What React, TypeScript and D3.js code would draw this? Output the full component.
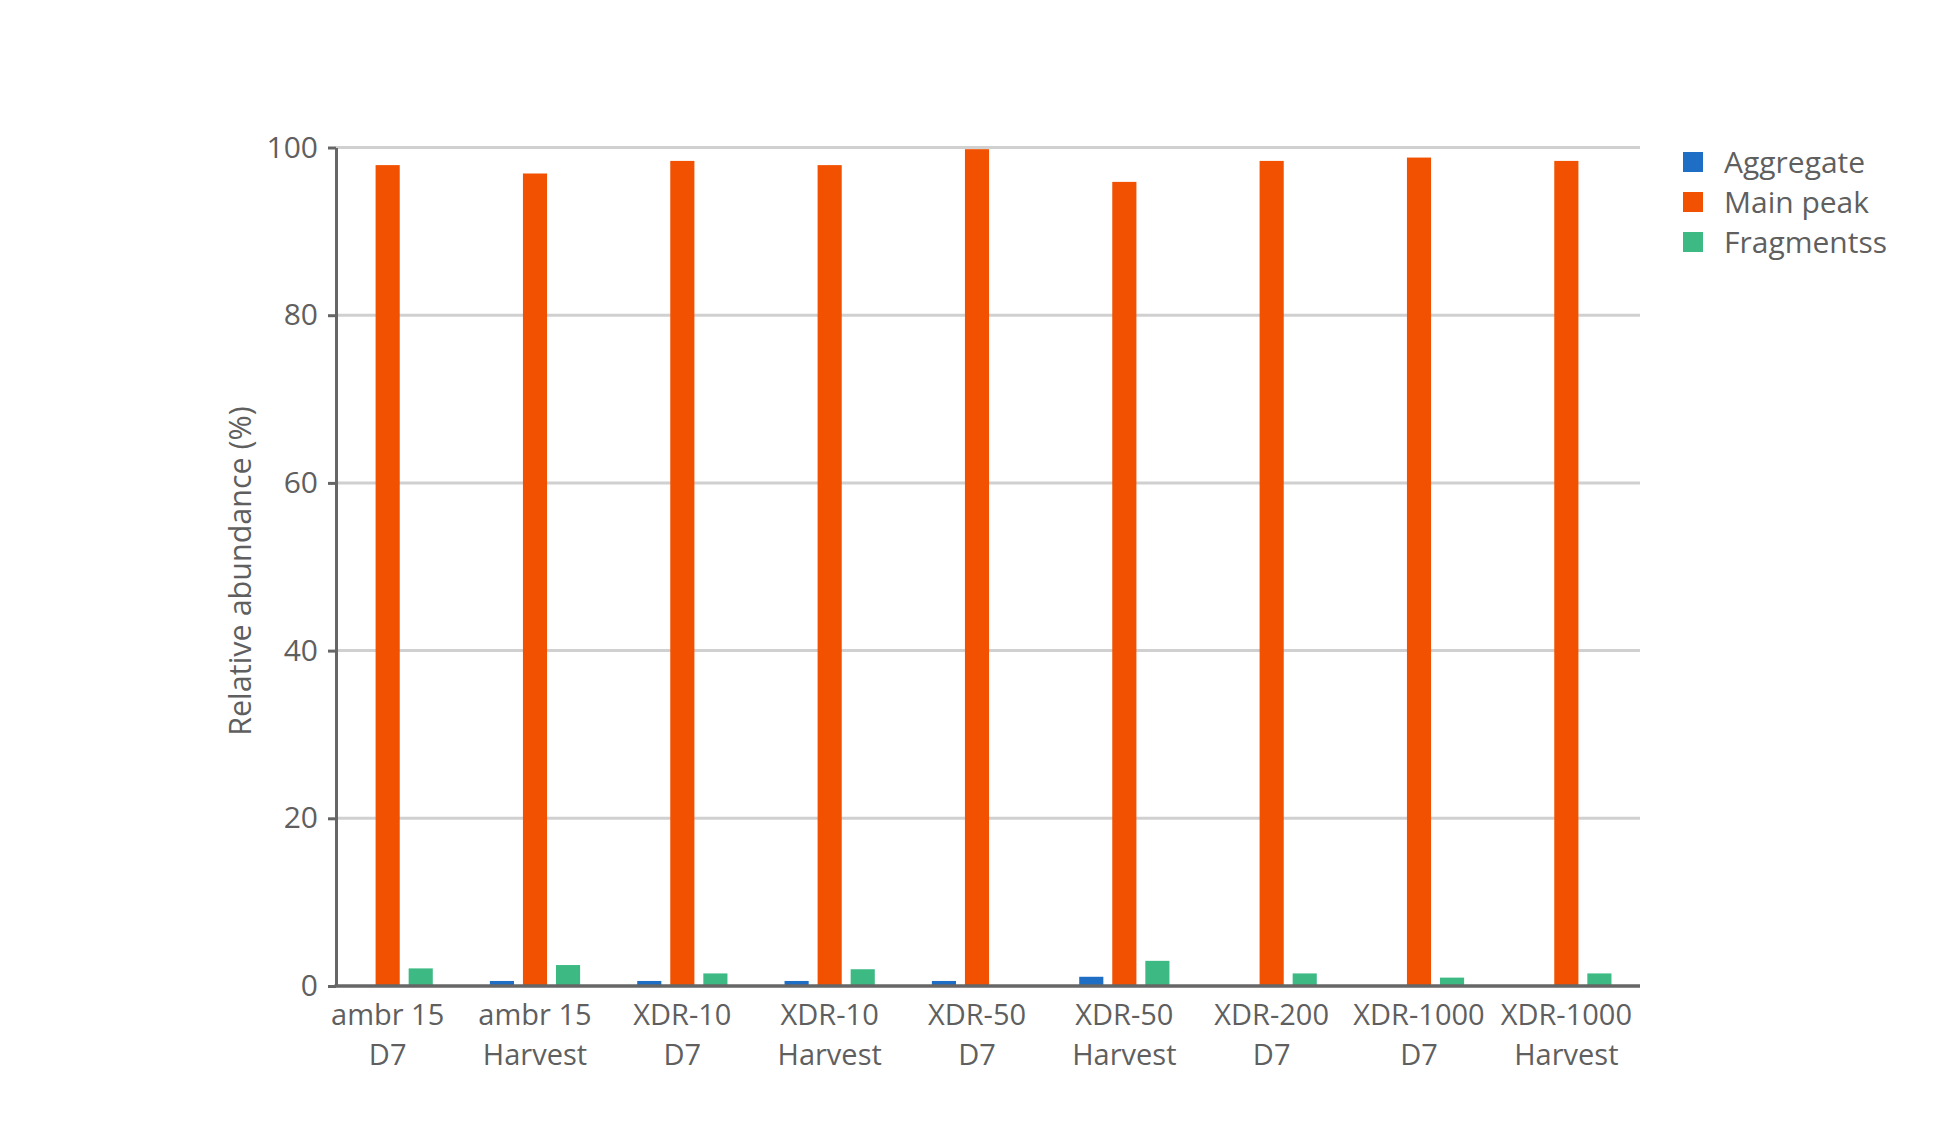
import React, { useEffect, useRef } from 'react';
import * as d3 from 'd3';

const categories = [
  'ambr 15 D7',
  'ambr 15 Harvest',
  'XDR-10 D7',
  'XDR-10 Harvest',
  'XDR-50 D7',
  'XDR-50 Harvest',
  'XDR-200 D7',
  'XDR-1000 D7',
  'XDR-1000 Harvest',
];

const seriesNames = ['Aggregate', 'Main peak', 'Fragmentss'];
const seriesColors = ['#1f6ec6', '#f15100', '#3dba84'];

const aggregate = [0, 0.6, 0.6, 0.6, 0.6, 1.1, 0, 0, 0];
const mainPeak = [97.9, 96.9, 98.4, 97.9, 99.8, 95.9, 98.4, 98.8, 98.4];
const fragments = [2.1, 2.5, 1.5, 2.0, 0, 3.0, 1.5, 1.0, 1.5];

const yTicks = [0, 20, 40, 60, 80, 100];

const W = 1957;
const H = 1123;
const FONT = '"Open Sans", "Noto Sans", sans-serif';
const TEXT = '#5f5f5f';
const AXIS = '#666666';
const GRID = '#d0d0d0';

export default function App() {
  const svgRef = useRef<SVGSVGElement>(null);

  useEffect(() => {
    if (!svgRef.current) return;
    const svg = d3.select(svgRef.current);
    svg.selectAll('*').remove();

    const axisX = 336;
    const plotRight = 1640;

    const y = d3.scaleLinear().domain([0, 100]).range([986, 147.5]);

    // outer band per category, inner band per series
    const x0 = d3.scaleBand<string>()
      .domain(categories)
      .range([314, plotRight])
      .paddingInner(0.327)
      .paddingOuter(0.1635);

    const x1 = d3.scaleBand<string>()
      .domain(seriesNames)
      .range([0, x0.bandwidth()])
      .paddingInner(0.27)
      .paddingOuter(0.135);

    const values = [aggregate, mainPeak, fragments];

    // gridlines
    svg.append('g')
      .selectAll('line')
      .data(yTicks.filter((t) => t > 0))
      .enter()
      .append('line')
      .attr('x1', axisX)
      .attr('x2', plotRight)
      .attr('y1', (d) => y(d))
      .attr('y2', (d) => y(d))
      .attr('stroke', GRID)
      .attr('stroke-width', 3);

    // bars
    const groups = svg.append('g')
      .selectAll('g')
      .data(categories)
      .enter()
      .append('g')
      .attr('transform', (d) => `translate(${x0(d)},0)`);

    groups.selectAll('rect')
      .data((_, i) => seriesNames.map((s, k) => ({ s, k, v: values[k][i] })))
      .enter()
      .filter((d) => d.v > 0)
      .append('rect')
      .attr('x', (d) => x1(d.s)!)
      .attr('width', x1.bandwidth())
      .attr('y', (d) => y(d.v))
      .attr('height', (d) => y(0) - y(d.v))
      .attr('fill', (d) => seriesColors[d.k]);

    // y axis
    const yAxis = d3.axisLeft(y)
      .tickValues(yTicks)
      .tickSize(8)
      .tickSizeOuter(0)
      .tickPadding(10);

    const yg = svg.append('g')
      .attr('transform', `translate(${axisX},0)`)
      .call(yAxis);
    yg.select('.domain').attr('stroke', AXIS).attr('stroke-width', 3);
    yg.selectAll('.tick line').attr('stroke', AXIS).attr('stroke-width', 3);
    yg.selectAll('.tick text')
      .attr('fill', TEXT)
      .style('font-size', '30px')
      .style('font-family', FONT);

    // x axis line
    svg.append('line')
      .attr('x1', axisX - 1.5)
      .attr('x2', plotRight)
      .attr('y1', y(0))
      .attr('y2', y(0))
      .attr('stroke', AXIS)
      .attr('stroke-width', 3.5);

    // x labels, two lines each (separate text nodes)
    const lines = categories.flatMap((d) => {
      const cut = d.lastIndexOf(' ');
      const cx = x0(d)! + x0.bandwidth() / 2;
      return [
        { cx, row: 0, text: d.slice(0, cut) },
        { cx, row: 1, text: d.slice(cut + 1) },
      ];
    });

    svg.append('g')
      .selectAll('text')
      .data(lines)
      .enter()
      .append('text')
      .attr('x', (d) => d.cx)
      .attr('y', (d) => 1025 + d.row * 40)
      .attr('text-anchor', 'middle')
      .attr('fill', TEXT)
      .style('font-size', '29px')
      .style('font-family', FONT)
      .text((d) => d.text);

    // y axis title
    svg.append('text')
      .attr('transform', `translate(251,571) rotate(-90)`)
      .attr('text-anchor', 'middle')
      .attr('fill', TEXT)
      .style('font-size', '30.5px')
      .style('font-family', FONT)
      .text('Relative abundance (%)');

    // legend
    const legend = svg.append('g')
      .selectAll('g')
      .data(seriesNames)
      .enter()
      .append('g')
      .attr('transform', (_, i) => `translate(1683,${152 + i * 40})`);

    legend.append('rect')
      .attr('width', 20)
      .attr('height', 20)
      .attr('fill', (_, i) => seriesColors[i]);

    legend.append('text')
      .attr('x', 41)
      .attr('y', 10)
      .attr('dy', '0.36em')
      .attr('fill', TEXT)
      .style('font-size', '30px')
      .style('font-family', FONT)
      .text((d) => d);
  }, []);

  return (
    <svg
      ref={svgRef}
      width={W}
      height={H}
      viewBox={`0 0 ${W} ${H}`}
      style={{ position: 'absolute', left: 0, top: 0, display: 'block', background: '#fff' }}
    />
  );
}
